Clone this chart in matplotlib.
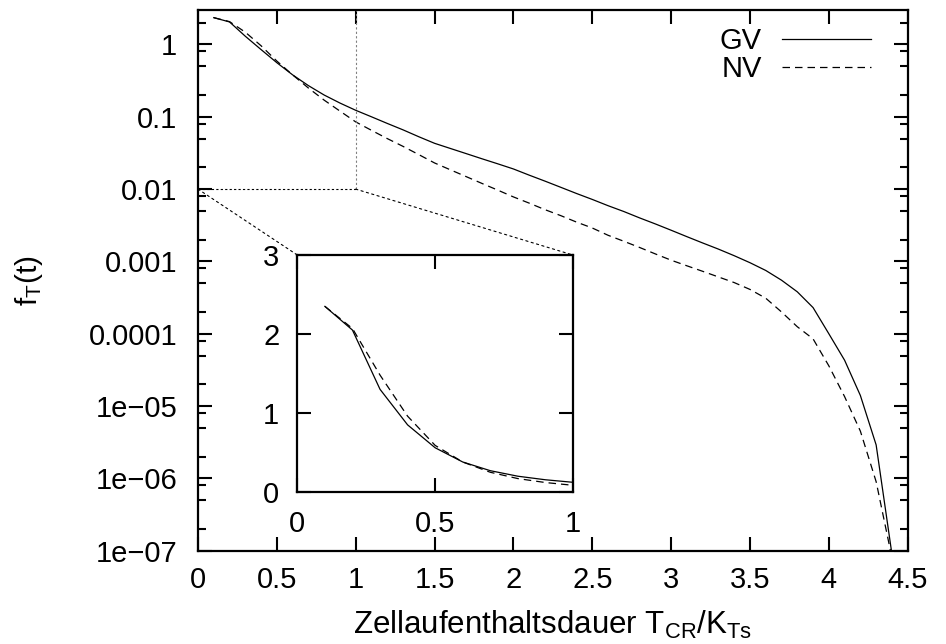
import numpy as np
import matplotlib
matplotlib.use('Agg')
import matplotlib.pyplot as plt
from matplotlib.patches import ConnectionPatch
from matplotlib.ticker import LogLocator, NullFormatter

plt.rcParams['font.family'] = ['Liberation Sans', 'DejaVu Sans']
plt.rcParams['mathtext.default'] = 'regular'

# residence time T_CR/K_Ts (steps of 0.1)
t = [0.1, 0.2, 0.3, 0.4, 0.5, 0.6, 0.7, 0.8, 0.9, 1.0,
     1.1, 1.2, 1.3, 1.4, 1.5, 1.6, 1.7, 1.8, 1.9, 2.0,
     2.1, 2.2, 2.3, 2.4, 2.5, 2.6, 2.7, 2.8, 2.9, 3.0,
     3.1, 3.2, 3.3, 3.4, 3.5, 3.6, 3.7, 3.8, 3.9, 4.0,
     4.1, 4.2, 4.3, 4.4]

gv = [2.35, 2.05, 1.3, 0.85, 0.56, 0.38, 0.27, 0.2, 0.155, 0.123,
      0.1, 0.081, 0.066, 0.053, 0.043, 0.0365, 0.031, 0.0263, 0.0224, 0.019,
      0.0156, 0.0129, 0.0106, 0.0087, 0.0072, 0.0059, 0.0049, 0.004, 0.0033, 0.0027,
      0.0022, 0.0018, 0.00148, 0.0012, 0.00096, 0.00075, 0.00055, 0.00038, 0.00023, 1.0e-4,
      4.3e-5, 1.4e-5, 2.9e-6, 9e-8]

nv = [2.35, 2.07, 1.48, 0.96, 0.59, 0.38, 0.25, 0.17, 0.12, 0.085,
      0.065, 0.05, 0.039, 0.03, 0.023, 0.0185, 0.0149, 0.012, 0.0097, 0.0078,
      0.0064, 0.0052, 0.0043, 0.0035, 0.0029, 0.0023, 0.0019, 0.00156, 0.00127, 0.00104,
      0.00087, 0.00073, 0.00061, 0.00051, 0.00041, 0.00031, 0.0002, 0.000125, 8.5e-5, 3.6e-5,
      1.35e-5, 4.5e-6, 9e-7, 8e-8]

y_ticks = [1, 0.1, 0.01, 0.001, 0.0001, 1e-5, 1e-6, 1e-7]
y_labels = ['1', '0.1', '0.01', '0.001', '0.0001',
            '1e\u221205', '1e\u221206', '1e\u221207']
x_ticks = [0, 0.5, 1, 1.5, 2, 2.5, 3, 3.5, 4, 4.5]
x_labels = ['0', '0.5', '1', '1.5', '2', '2.5', '3', '3.5', '4', '4.5']

fs = 21
fig = plt.figure(figsize=(9.46, 6.44), dpi=100)
ax = fig.add_axes([0.2093, 0.1449, 0.9595 - 0.2093, 0.9845 - 0.1449])

ax.plot(t, gv, 'k-', lw=0.9, label='GV')
ax.plot(t, nv, 'k--', lw=0.9, dashes=(6, 4), label='NV')
ax.set_yscale('log')
ax.set_xlim(0, 4.5)
ax.set_ylim(1e-7, 3)
ax.set_xticks(x_ticks, x_labels)
ax.set_yticks(y_ticks, y_labels)
ax.yaxis.set_minor_locator(LogLocator(base=10, subs=[2, 5, 8]))
ax.yaxis.set_minor_formatter(NullFormatter())
ax.tick_params(which='both', direction='in', top=True, right=True,
               labelsize=fs, width=1.5)
ax.tick_params(which='major', length=10)
ax.tick_params(axis='y', which='major', pad=15)
ax.tick_params(axis='x', which='major', pad=11)
ax.tick_params(which='minor', length=5.5)
for s in ax.spines.values():
    s.set_linewidth(1.6)

ax.set_xlabel('Zellaufenthaltsdauer T$_{CR}$/K$_{Ts}$', fontsize=22.5)
ax.set_ylabel('f$_T$(t)', fontsize=21.5)
ax.xaxis.set_label_coords(0.5, -0.107)
ax.yaxis.set_label_coords(-0.215, 0.5)

leg = ax.legend(loc='upper right', bbox_to_anchor=(0.948, 0.968),
                frameon=False, fontsize=fs, markerfirst=False,
                handlelength=3.05, handletextpad=0.68, labelspacing=0.0,
                borderpad=0, borderaxespad=0)

# zoom region markers
ax.plot([0, 1], [0.01, 0.01], color='k', ls=(0, (2, 2)), lw=0.8)
ax.plot([1, 1], [0.01, 3], color='gray', ls=(0, (2, 2)), lw=0.8)

# inset
ins = fig.add_axes([0.3143, 0.236, 0.6057 - 0.3143, 0.604 - 0.236])
ins.plot(t, gv, 'k-', lw=0.9)
ins.plot(t, nv, 'k--', lw=0.9, dashes=(6, 4))
ins.set_xlim(0, 1)
ins.set_ylim(0, 3)
ins.set_xticks([0, 0.5, 1], ['0', '0.5', '1'])
ins.set_yticks([0, 1, 2, 3])
ins.tick_params(direction='in', top=True, right=True, labelsize=fs,
                length=10, width=1.5, pad=13)
for s in ins.spines.values():
    s.set_linewidth(1.6)

for xa, xb in [(0, 0), (1, 1)]:
    con = ConnectionPatch(xyA=(xa, 0.01), coordsA=ax.transData,
                          xyB=(xb, 1), coordsB=ins.transAxes,
                          color='k', ls=(0, (2, 3)), lw=0.8)
    fig.add_artist(con)

fig.savefig('out.png', dpi=100)
